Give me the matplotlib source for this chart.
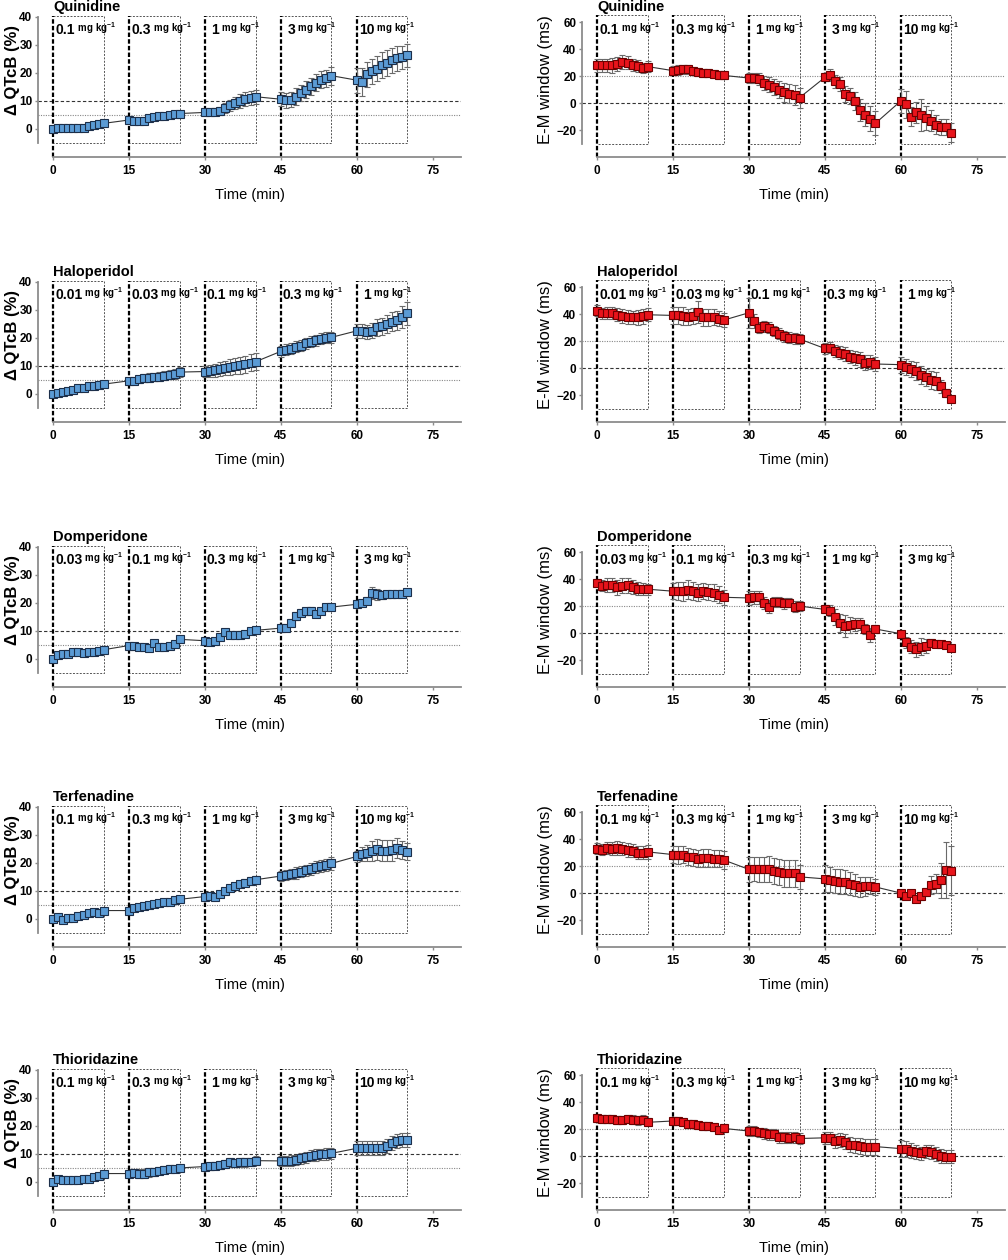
import numpy as np
import matplotlib.pyplot as plt

plt.rcParams["font.family"] = ["Liberation Sans", "DejaVu Sans"]
plt.rcParams["mathtext.fontset"] = "custom"
plt.rcParams["mathtext.rm"] = "Liberation Sans:bold"
plt.rcParams["mathtext.bf"] = "Liberation Sans:bold"

DRUGS = ["Quinidine", "Haloperidol", "Domperidone", "Terfenadine", "Thioridazine"]
DOSE_START = [0, 15, 30, 45, 60]
MINUTES = list(range(11))

QUIN_DOSES = ["0.1", "0.3", "1", "3", "10"]
HALO_DOSES = ["0.01", "0.03", "0.1", "0.3", "1"]
DOMP_DOSES = ["0.03", "0.1", "0.3", "1", "3"]
TERF_DOSES = ["0.1", "0.3", "1", "3", "10"]
THIO_DOSES = ["0.1", "0.3", "1", "3", "10"]

# delta QTcB (%)
QUIN_QTC = [0, 0.2, 0.3, 0.3, 0.4, 0.5, 0.5, 1.0, 1.3, 1.8, 2.0,
            3.2, 3.0, 2.9, 3.0, 3.8, 4.2, 4.5, 4.7, 5.0, 5.3, 5.5,
            5.9, 6.0, 6.1, 6.4, 7.5, 8.5, 9.3, 10.0, 10.8, 11.0, 11.5,
            10.6, 10.2, 10.5, 11.5, 12.8, 14.0, 15.2, 16.5, 17.5, 18.0, 19.0,
            17.4, 16.8, 19.5, 20.5, 21.5, 22.8, 23.5, 24.5, 25.2, 25.5, 26.2]
QUIN_QTC_SEM = [0, 0.3, 0.3, 0.3, 0.3, 0.4, 0.4, 0.5, 0.5, 0.6, 0.6,
                0.6, 0.6, 0.6, 0.7, 0.7, 0.8, 0.8, 0.8, 0.9, 0.9, 1.0,
                0.8, 1.0, 1.2, 1.5, 1.8, 2.0, 2.2, 2.5, 2.5, 2.5, 2.5,
                2.5, 2.8, 2.8, 3.0, 3.0, 3.0, 3.0, 3.0, 3.0, 3.0, 3.2,
                4.5, 5.0, 4.5, 4.5, 4.5, 4.5, 4.5, 4.5, 4.5, 4.0, 4.0]
HALO_QTC = [0, 0.5, 0.8, 1.0, 1.3, 2.0, 2.3, 2.8, 3.0, 3.2, 3.5,
            4.7, 4.8, 5.2, 5.8, 5.8, 6.0, 6.2, 6.5, 6.9, 7.2, 7.8,
            8.0, 8.2, 8.5, 8.9, 9.2, 9.5, 9.9, 10.2, 10.6, 11.2, 11.5,
            15.2, 15.8, 16.2, 16.8, 17.2, 18.0, 18.7, 19.2, 19.7, 20.0, 20.2,
            22.5, 22.5, 22.2, 22.6, 23.8, 24.2, 25.0, 25.8, 26.2, 27.5, 28.7]
HALO_QTC_SEM = [0, 0.3, 0.4, 0.4, 0.5, 0.5, 0.5, 0.5, 0.5, 0.5, 0.6,
                0.8, 1.0, 1.2, 1.4, 1.5, 1.5, 1.5, 1.6, 1.6, 1.7, 1.8,
                2.0, 2.2, 2.3, 2.5, 2.6, 2.8, 2.8, 3.0, 3.0, 3.0, 3.0,
                2.0, 2.0, 2.0, 2.0, 2.0, 2.0, 2.0, 2.0, 2.0, 2.0, 2.0,
                2.5, 2.5, 2.5, 2.8, 3.0, 3.0, 3.2, 3.5, 3.5, 3.8, 4.2]
DOMP_QTC = [0, 1.3, 1.7, 1.8, 2.6, 2.5, 2.0, 2.5, 2.6, 2.8, 3.3,
            4.8, 4.5, 4.3, 4.2, 4.0, 5.6, 4.2, 4.2, 4.5, 5.2, 7.0,
            6.5, 6.2, 6.3, 8.0, 9.5, 8.5, 8.5, 8.6, 8.8, 10.0, 10.2,
            11.0, 11.0, 12.9, 15.3, 16.5, 17.0, 17.2, 16.2, 17.2, 18.5, 18.5,
            19.5, 20.0, 20.8, 23.5, 23.0, 22.8, 23.0, 23.0, 23.2, 23.3, 23.8]
DOMP_QTC_SEM = [0, 0.4, 0.5, 0.5, 0.6, 0.6, 0.5, 0.5, 0.5, 0.6, 0.6,
                0.8, 0.8, 0.8, 0.9, 0.9, 0.8, 0.8, 0.8, 0.9, 1.0, 0.9,
                1.0, 1.0, 1.0, 1.0, 1.2, 1.2, 1.2, 1.0, 1.0, 1.0, 0.9,
                0.8, 0.9, 1.2, 1.3, 1.3, 1.3, 1.2, 1.0, 1.0, 1.2, 1.0,
                1.0, 1.2, 1.2, 2.0, 2.0, 1.5, 1.2, 1.2, 1.2, 1.2, 1.2]
TERF_QTC = [0, 0.7, -0.2, 0.3, 0.2, 1.0, 1.5, 2.2, 2.5, 2.3, 3.0,
            3.0, 4.0, 4.4, 4.7, 5.0, 5.4, 5.8, 6.0, 6.2, 6.6, 7.0,
            8.0, 8.2, 8.0, 8.8, 9.8, 11.0, 11.8, 12.5, 13.0, 13.5, 14.0,
            15.3, 15.7, 16.0, 16.4, 16.8, 17.3, 17.8, 18.4, 18.8, 19.2, 19.8,
            22.3, 23.0, 23.5, 24.2, 24.8, 24.4, 24.4, 24.5, 25.2, 24.5, 24.0]
TERF_QTC_SEM = [0, 0.3, 0.3, 0.3, 0.3, 0.4, 0.4, 0.4, 0.4, 0.4, 0.5,
                0.4, 0.5, 0.5, 0.5, 0.5, 0.5, 0.5, 0.5, 0.6, 0.6, 0.6,
                0.8, 0.8, 0.8, 0.9, 1.0, 1.0, 1.1, 1.2, 1.2, 1.3, 1.5,
                1.8, 1.8, 1.9, 2.0, 2.0, 2.0, 2.1, 2.1, 2.2, 2.2, 2.3,
                2.0, 2.5, 3.0, 3.5, 3.8, 3.8, 3.8, 3.8, 3.5, 3.2, 3.0]
THIO_QTC = [0, 1.2, 0.7, 0.7, 0.7, 0.8, 1.0, 1.2, 1.8, 2.2, 3.0,
            3.0, 3.2, 3.0, 3.0, 3.4, 3.6, 4.0, 4.4, 4.8, 4.8, 5.0,
            5.5, 5.6, 5.8, 6.0, 6.4, 7.0, 6.8, 7.0, 7.0, 7.2, 7.6,
            7.5, 7.5, 7.6, 7.8, 8.5, 8.8, 9.3, 9.6, 9.8, 10.0, 10.2,
            12.0, 12.0, 12.2, 12.2, 12.2, 12.0, 13.0, 14.0, 14.5, 15.0, 14.8]
THIO_QTC_SEM = [0, 0.3, 0.3, 0.3, 0.3, 0.4, 0.4, 0.4, 0.5, 0.6, 0.7,
                1.2, 1.5, 1.6, 1.6, 1.5, 1.4, 1.3, 1.2, 1.1, 1.0, 1.0,
                1.2, 1.3, 1.3, 1.4, 1.4, 1.5, 1.5, 1.5, 1.5, 1.5, 1.5,
                1.8, 1.8, 1.9, 1.9, 2.0, 2.0, 2.0, 2.0, 2.0, 2.0, 2.0,
                2.5, 2.5, 2.5, 2.5, 2.5, 2.5, 2.5, 2.5, 2.5, 2.5, 2.5]

# E-M window (ms)
QUIN_EM = [28, 28, 28, 28, 29, 30.5, 30, 28, 27.5, 26, 27,
           24, 24.5, 25, 25, 24, 23, 22, 22, 21.5, 21, 20.5,
           18.5, 18.5, 18, 15, 13.5, 12, 10, 8, 7, 6, 4,
           19, 20.5, 16, 14, 7, 5, 1.5, -5, -8.5, -11.5, -15,
           1.5, -1, -10, -7, -9, -11, -13, -16, -18, -18, -22]
QUIN_EM_SEM = [5, 5, 5, 5.5, 5, 5, 5, 4.5, 4.5, 4, 4,
               3.5, 3.5, 3.5, 3.5, 3, 3, 3, 3, 3, 3, 3,
               3.5, 4, 4.5, 5, 5.5, 6, 6.5, 7, 7, 7.5, 7.5,
               3, 4.5, 5, 5, 6, 6, 7, 8, 8.5, 9, 9,
               9, 10, 7, 8, 12, 9, 8, 7, 6, 6, 7]
HALO_EM = [42.5, 40.5, 41, 40.5, 39.5, 38.5, 38, 37.5, 37.5, 38.5, 39.5,
           39, 39, 38.5, 38, 38.5, 41.5, 37.5, 37.5, 38, 36.5, 35.5,
           41, 35, 30, 31, 30, 27.5, 25.5, 23.5, 22.5, 22, 21.5,
           14.5, 15, 12.5, 11.5, 10.5, 8.5, 7.5, 6.5, 4, 4.5, 3,
           2.5, 0.5, -1, -2, -5, -7, -9, -9.5, -13.5, -18.5, -23]
HALO_EM_SEM = [4, 4, 4.5, 4.5, 5, 5, 5, 5, 5.5, 5.5, 5,
               6, 6.5, 6.5, 6, 6, 8, 6, 6, 6, 5.5, 5,
               11, 5, 4, 4, 4, 4, 4, 4, 4, 4, 4,
               4, 4, 4.5, 5, 5, 5, 5, 5.5, 5.5, 5.5, 5.5,
               6, 6, 6, 6.5, 6.5, 6.5, 6.5, 6.5, 5, 3, 2]
DOMP_EM = [37, 35, 35.5, 35.5, 34, 35, 35.5, 34, 33, 32.5, 32.5,
           31, 31, 31, 32, 31, 30, 31, 30.5, 30, 28.5, 26.5,
           26, 26.5, 26.5, 22, 19.5, 23, 23, 22, 22.5, 19.5, 20,
           17.5, 16.5, 12, 7.5, 5, 6, 6.5, 7, 3, -1.5, 3,
           -0.5, -7, -10, -12, -10, -9.5, -7.5, -8, -8, -8.5, -11]
DOMP_EM_SEM = [3, 4, 5, 5, 5.5, 5.5, 5.5, 5, 4.5, 4.5, 4,
               6, 6.5, 7, 7, 6.5, 6.5, 6, 6, 6, 6, 5.5,
               5, 5, 5, 4.5, 5, 4, 4, 4, 3.5, 4, 3.5,
               3, 4, 6, 6.5, 8, 6, 5, 4.5, 4, 5, 3,
               2, 4, 5, 5.5, 6, 5, 3, 2.5, 2, 2, 2]
TERF_EM = [33, 32, 33.5, 33, 33.5, 33, 32, 31.5, 30, 30, 30.5,
           28.5, 28, 28.5, 27, 26.5, 25.5, 26, 26, 25.5, 25.5, 24.5,
           17.5, 18, 17.5, 17.5, 18, 16.5, 15.5, 14.5, 14.5, 14.5, 12,
           10.5, 10, 9, 8.5, 8, 7, 6, 4.5, 5, 5.5, 4.5,
           0, -2, 0, -4.5, -2.5, 1, 6, 7, 9.5, 17, 16.5]
TERF_EM_SEM = [4, 4, 4.5, 5, 5, 5, 5, 5, 5, 5, 5,
               6, 6.5, 6.5, 6.5, 6.5, 6.5, 6.5, 6.5, 6.5, 6.5, 6.5,
               9, 9, 9, 9.5, 9.5, 9.5, 9.5, 10, 10, 10, 9,
               10, 9.5, 9, 9, 9, 8.5, 8, 7.5, 7, 6.5, 6,
               2, 2, 2, 2.5, 2.5, 3, 7, 7, 13, 21, 18]
THIO_EM = [28, 27.5, 27.5, 27.5, 27, 27, 27.5, 27, 26.5, 27, 25,
           26, 26, 25, 24, 23.5, 23, 22.5, 22, 21.5, 19, 20.5,
           18.5, 18.5, 17.5, 17, 16, 16, 14, 14, 13.5, 14, 13,
           13.5, 13.5, 11, 12, 10.5, 8.5, 8, 7.5, 7, 7, 7,
           5.5, 5, 4, 3, 2, 3.5, 3, 1.5, 0, -0.5, -0.5]
THIO_EM_SEM = [3, 3, 3, 3, 3, 3, 3, 3.5, 3.5, 3.5, 3,
               3, 3, 3, 3, 3, 3, 3, 3, 3, 3, 3,
               3.5, 3.5, 3.5, 4, 4, 4, 4, 4, 4, 4, 4,
               4.5, 4.5, 5, 5, 5.5, 5.5, 5.5, 6, 6, 6, 6,
               6.5, 6, 5.5, 5, 5, 5, 5, 5, 5, 5, 5]

QTC_VALUES = [QUIN_QTC, HALO_QTC, DOMP_QTC, TERF_QTC, THIO_QTC]
QTC_SEMS = [QUIN_QTC_SEM, HALO_QTC_SEM, DOMP_QTC_SEM, TERF_QTC_SEM, THIO_QTC_SEM]
EM_VALUES = [QUIN_EM, HALO_EM, DOMP_EM, TERF_EM, THIO_EM]
EM_SEMS = [QUIN_EM_SEM, HALO_EM_SEM, DOMP_EM_SEM, TERF_EM_SEM, THIO_EM_SEM]
DOSE_LABELS = [QUIN_DOSES, HALO_DOSES, DOMP_DOSES, TERF_DOSES, THIO_DOSES]

TIME = np.concatenate([np.array(MINUTES) + s for s in DOSE_START])

W, H = 1008, 1260
ROW_TOPS = [14, 279, 544, 804, 1067]
AX_H = 143


def draw_panel(ax, title, values, sems, doses, kind):
    if kind == "qtc":
        ylim = (-10, 41)
        box_lo, box_hi = -5, 40.4
        spine = (-5, 40)
        yticks = [0, 10, 20, 30, 40]
        ref_dash, ref_dot = 10, 5
        label_y = 35.2
        face, edge = "#5b9bd5", "#1c2f4a"
        ylabel = "Δ QTcB (%)"
        ylw = "bold"
    else:
        ylim = (-40, 66)
        box_lo, box_hi = -30, 65
        spine = (-30, 60)
        yticks = [-20, 0, 20, 40, 60]
        ref_dash, ref_dot = 0, 20
        label_y = 54
        face, edge = "#e8141b", "#6e0000"
        ylabel = "E-M window (ms)"
        ylw = "normal"

    ax.set_xlim(-3, 80.6)
    ax.set_ylim(*ylim)

    # reference lines
    ax.axhline(ref_dash, color="#333333", lw=0.8, ls=(0, (3, 2)), zorder=1)
    ax.axhline(ref_dot, color="#888888", lw=0.8, ls=(0, (1, 1.2)), zorder=1)

    # dosing boxes
    for s, d in zip(DOSE_START, doses):
        ax.plot([s, s + 10, s + 10, s], [box_hi, box_hi, box_lo, box_lo],
                color="#555555", lw=0.7, ls=(0, (2, 1.5)), zorder=1)
        ax.plot([s, s], [ylim[0], box_hi], color="black", lw=1.6,
                ls=(0, (2, 1)), zorder=2)
        off = 1.3 if len(d) == 1 else 0.4
        num = ax.text(s + off, label_y, d, fontsize=10, fontweight="bold",
                      ha="left", va="center", zorder=5)
        ax.annotate(r" mg kg$^{-1}$", xy=(1, 0.08), xycoords=num,
                    fontsize=7, fontweight="bold", ha="left", va="bottom",
                    zorder=5)

    ax.errorbar(TIME, values, yerr=sems, fmt="none", ecolor="#6a6a6a",
                elinewidth=0.8, capsize=2.5, capthick=0.8, zorder=3)
    ax.plot(TIME, values, color="#333333", lw=0.8, marker="s", ms=5.6,
            mfc=face, mec=edge, mew=0.8, zorder=4)

    for side in ["top", "right"]:
        ax.spines[side].set_visible(False)
    ax.spines["left"].set_bounds(*spine)
    ax.spines["bottom"].set_bounds(0, 80.6)
    for side in ["left", "bottom"]:
        ax.spines[side].set_color("#8c8c8c")
        ax.spines[side].set_linewidth(1.3)
    ax.set_yticks(yticks)
    ax.set_xticks([0, 15, 30, 45, 60, 75])
    ax.tick_params(colors="#8c8c8c", labelcolor="black", length=2.5,
                   width=1, labelsize=8.5, pad=1.5)
    ax.tick_params(axis="x", pad=3)
    for lab in ax.get_xticklabels() + ax.get_yticklabels():
        lab.set_fontweight("bold")
    ax.set_xlabel("Time (min)", fontsize=10.5, labelpad=8)
    ax.set_ylabel(ylabel, fontsize=12, fontweight=ylw)
    ax.text(0, 1.0, title, transform=ax.get_xaxis_transform(), fontsize=10.5,
            fontweight="bold", ha="left", va="bottom")


fig = plt.figure(figsize=(W / 100, H / 100), dpi=100)
for i, drug in enumerate(DRUGS):
    b = 1 - (ROW_TOPS[i] + AX_H) / H
    ax_l = fig.add_axes([38 / W, b, 423 / W, AX_H / H])
    draw_panel(ax_l, drug, QTC_VALUES[i], QTC_SEMS[i], DOSE_LABELS[i], "qtc")
    ax_r = fig.add_axes([582 / W, b, 423 / W, AX_H / H])
    draw_panel(ax_r, drug, EM_VALUES[i], EM_SEMS[i], DOSE_LABELS[i], "em")
    ax_l.yaxis.set_label_coords(-0.043, 0.61)
    ax_r.yaxis.set_label_coords(-0.068, 0.54)

fig.savefig("out.png", dpi=100)
